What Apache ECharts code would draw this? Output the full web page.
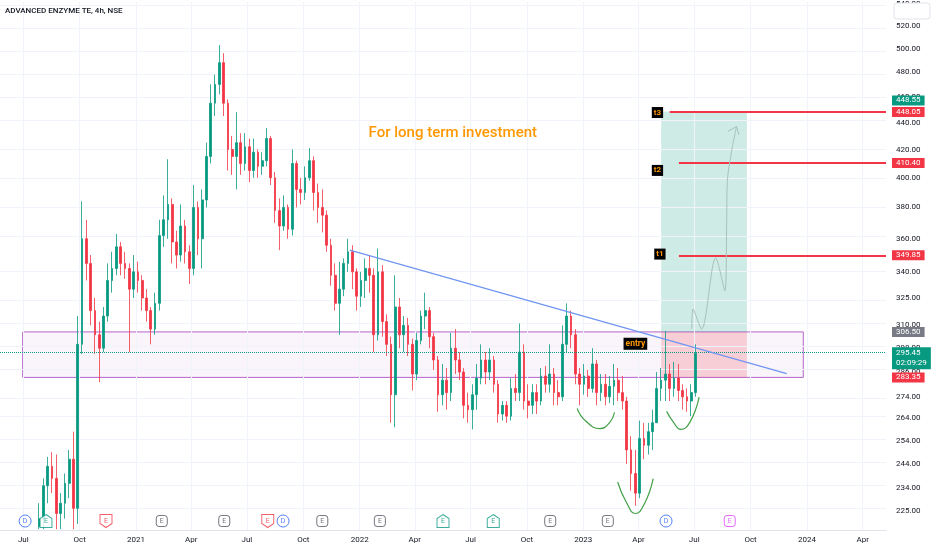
<!DOCTYPE html>
<html>
<head>
<meta charset="utf-8">
<title>ADVANCED ENZYME TE, 4h, NSE</title>
<script src="https://cdn.jsdelivr.net/npm/echarts@6/dist/echarts.min.js"></script>
<style>
  html, body { margin: 0; padding: 0; background: #fff; }
  #chart { width: 932px; height: 550px; }
</style>
</head>
<body>
<div id="chart"></div>
<script>
// weekly candles, [open, close, low, high]
// (lows that run off the bottom of the picture are taken at the edge)
var firstWeek = '2020-07-27';
var candles = [
  [219, 222, 218, 228], [222, 235, 218, 238], [235, 243, 228, 247], [243, 238, 232, 249],
  [238, 224, 218, 248], [224, 228, 218, 232], [228, 236, 222, 240], [236, 246, 230, 250],
  [246, 226, 218, 258], [226, 300, 220, 315], [300, 360, 295, 384], [360, 345, 335, 372],
  [345, 318, 310, 350], [318, 305, 295, 325], [305, 298, 281, 312], [298, 315, 296, 320],
  [315, 335, 312, 345], [335, 342, 328, 352], [342, 355, 338, 363], [355, 345, 338, 358],
  [345, 342, 336, 352], [342, 330, 296, 345], [330, 340, 325, 350], [340, 335, 328, 346],
  [335, 325, 318, 338], [325, 318, 312, 330], [318, 308, 300, 320], [308, 322, 305, 328],
  [322, 362, 318, 372], [362, 372, 355, 388], [372, 382, 360, 413], [382, 358, 345, 386],
  [358, 350, 342, 365], [350, 368, 346, 382], [368, 352, 345, 372], [352, 342, 333, 356],
  [342, 380, 338, 395], [380, 360, 350, 384], [360, 385, 342, 392], [385, 415, 380, 425],
  [415, 455, 410, 470], [455, 470, 445, 478], [470, 488, 462, 503], [488, 455, 445, 496],
  [455, 420, 405, 458], [420, 415, 402, 430], [415, 425, 392, 448], [425, 410, 402, 432],
  [410, 422, 405, 432], [422, 405, 397, 428], [405, 418, 400, 428], [418, 408, 400, 420],
  [408, 412, 402, 418], [412, 428, 408, 436], [428, 400, 395, 430], [400, 378, 370, 404],
  [378, 368, 353, 386], [368, 380, 365, 388], [380, 366, 360, 382], [366, 410, 362, 420],
  [410, 392, 380, 412], [392, 390, 382, 400], [390, 400, 385, 408], [400, 412, 398, 421],
  [412, 390, 378, 415], [390, 380, 370, 396], [380, 375, 364, 392], [375, 356, 352, 378],
  [356, 338, 332, 360], [338, 322, 318, 345], [322, 330, 305, 346], [330, 345, 326, 348],
  [345, 352, 340, 360], [352, 340, 330, 356], [340, 326, 318, 342], [326, 335, 320, 340],
  [335, 342, 325, 348], [342, 338, 328, 350], [338, 305, 296, 342], [305, 340, 302, 354],
  [340, 312, 304, 344], [312, 300, 294, 316], [300, 275, 262, 304], [275, 320, 260, 338],
  [320, 305, 298, 325], [305, 310, 296, 315], [310, 300, 294, 314], [300, 285, 277, 303],
  [285, 302, 282, 306], [302, 315, 300, 318], [315, 318, 308, 328], [318, 304, 298, 320],
  [304, 292, 287, 306], [292, 275, 267, 294], [275, 282, 270, 290], [282, 276, 268, 288],
  [276, 298, 272, 306], [298, 292, 285, 308], [292, 286, 282, 296], [286, 270, 264, 288],
  [270, 268, 262, 276], [268, 275, 259, 280], [275, 283, 268, 290], [283, 292, 280, 300],
  [292, 286, 280, 296], [286, 292, 282, 298], [292, 280, 276, 294], [280, 266, 262, 282],
  [266, 270, 263, 272], [270, 265, 262, 272], [265, 278, 263, 283], [278, 276, 272, 285],
  [276, 296, 272, 311], [296, 272, 268, 300], [272, 270, 264, 280], [270, 276, 266, 280],
  [276, 272, 266, 280], [272, 284, 270, 288], [284, 280, 276, 289], [280, 285, 276, 300],
  [285, 276, 270, 288], [276, 274, 270, 282], [274, 300, 272, 310], [300, 315, 296, 322],
  [315, 305, 298, 318], [305, 285, 280, 308], [285, 280, 270, 288], [280, 284, 275, 290],
  [284, 278, 274, 287], [278, 290, 276, 298], [290, 276, 270, 292], [276, 280, 272, 285],
  [280, 274, 270, 285], [274, 279, 271, 284], [279, 282, 270, 290], [282, 276, 272, 288],
  [276, 272, 268, 284], [272, 250, 244, 274], [250, 240, 233, 256], [240, 232, 227, 250],
  [232, 255, 230, 263], [255, 252, 246, 262], [252, 258, 248, 262], [258, 262, 250, 268],
  [262, 278, 262, 286], [278, 282, 272, 288], [282, 285, 272, 307], [285, 278, 272, 290],
  [278, 283, 274, 291], [283, 277, 272, 290], [277, 274, 268, 280], [274, 272, 267, 278],
  [272, 276, 265, 280], [276, 295.45, 274, 300]
];
var lastPrice = 295.45;
var countdown = '02:09:29';

var priceTicks = [225, 234, 244, 254, 264, 274, 286, 298, 310, 325, 340, 360, 380, 400, 420, 440, 460, 480, 500, 520, 540];
var timeTicks = ['2020-07-01', '2020-10-01', '2021-01-01', '2021-04-01', '2021-07-01', '2021-10-01',
  '2022-01-01', '2022-04-01', '2022-07-01', '2022-10-01', '2023-01-01', '2023-04-01',
  '2023-07-01', '2023-10-01', '2024-01-01', '2024-04-01'];
var monthNames = ['Jan', 'Feb', 'Mar', 'Apr', 'May', 'Jun', 'Jul', 'Aug', 'Sep', 'Oct', 'Nov', 'Dec'];

// drawings
var zoneDates = ['2020-06-30', '2023-12-26'];
var zonePrices = [283.35, 306.50];
var boxDates = ['2023-05-08', '2023-09-25'];
var entryPrice = 306.50;
var stopPrice = 283.35;
var targetPrice = 448.55;
var targetNames = ['t1', 't2', 't3'];
var targetLevels = [349.85, 410.40, 448.05];
var targetStarts = ['2023-06-06', '2023-06-06', '2023-05-22'];
var targetLabelAt = [['2023-05-06', 350.6], ['2023-05-02', 405.1], ['2023-05-02', 447.7]];
var entryLabelAt = ['2023-03-27', 300.3];
var noteText = 'For long term investment';
var noteAt = ['2022-06-02', 431.6];
var trendLine = [['2021-12-16', 353.0], ['2023-11-29', 285.2]];
var cupLeft = [['2022-12-22', 268.5], ['2023-01-04', 263.0], ['2023-01-28', 259.4], ['2023-02-13', 262.1], ['2023-02-21', 266.7]];
var cupMid = [['2023-02-26', 236.5], ['2023-03-12', 228.5], ['2023-03-27', 224.0], ['2023-04-11', 227.9], ['2023-04-25', 237.9]];
var cupRight = [['2023-05-17', 267.2], ['2023-05-28', 262.3], ['2023-06-09', 259.0], ['2023-06-24', 262.3], ['2023-07-09', 273.9]];
var projection = [['2023-06-27', 308.0], ['2023-06-29', 318.8], ['2023-07-13', 308.0], ['2023-08-05', 348.4],
  ['2023-08-20', 329.0], ['2023-08-23', 371.1], ['2023-08-24', 397.5], ['2023-08-31', 418.6], ['2023-09-08', 437.0]];
var arrowHead = [['2023-08-25', 433.3], ['2023-09-08', 437.0], ['2023-09-12', 430.8]];

// earnings / dividend flags along the bottom
var eventDates = ['2020-07-04', '2020-08-07', '2020-11-13', '2021-02-12', '2021-05-25', '2021-08-04',
  '2021-08-29', '2021-11-01', '2022-02-03', '2022-05-17', '2022-08-07', '2022-11-08',
  '2023-02-10', '2023-05-16', '2023-08-28'];
var eventKinds = ['D', 'Eup', 'Edown', 'E', 'E', 'Edown', 'D', 'E', 'E', 'Eup', 'Eup', 'E', 'E', 'D', 'Efuture'];
var eventRowPrice = 221.1;

var DAY = 86400000;
function T(s) { return Date.parse(s + 'T00:00:00Z'); }
function L(p) { return Math.log(p); }
function pt(d) { return [T(d[0]), L(d[1])]; }

var xMin = T('2020-05-24');
var xMax = T('2024-05-09');
var yMin = L(217.7);
var yMax = L(541.9);

var candleData = candles.map(function (c, i) {
  return [T(firstWeek) + i * 7 * DAY, L(c[0]), L(c[1]), L(c[2]), L(c[3])];
});

var eventStyles = {
  D: { symbol: 'circle', size: 12, color: '#2962ff', text: 'D' },
  E: { symbol: 'roundRect', size: 11, color: '#50535e', text: 'E' },
  Eup: { symbol: 'path://M6,0 L12,4 L12,13 L0,13 L0,4 Z', size: [12, 13], color: '#089981', text: 'E' },
  Edown: { symbol: 'path://M0,0 L12,0 L12,9 L6,13 L0,9 Z', size: [12, 13], color: '#f23645', text: 'E' },
  Efuture: { symbol: 'roundRect', size: 11, color: '#e040fb', text: 'E' }
};
var eventData = eventDates.map(function (d, i) {
  var s = eventStyles[eventKinds[i]];
  return {
    value: [T(d), L(eventRowPrice)],
    symbol: s.symbol,
    symbolSize: s.size,
    itemStyle: { color: '#ffffff', borderColor: s.color, borderWidth: 1 },
    label: { show: true, position: 'inside', formatter: s.text, color: s.color, fontSize: 7, fontFamily: 'Roboto' }
  };
});

var gridLines = priceTicks.map(function (p) { return { yAxis: L(p) }; })
  .concat(timeTicks.map(function (d) { return { xAxis: T(d) }; }));

var targetLines = targetLevels.map(function (p, i) {
  return [{ coord: [T(targetStarts[i]), L(p)] }, { coord: [xMax, L(p)] }];
});

var chart = echarts.init(document.getElementById('chart'));

var option = {
  animation: false,
  backgroundColor: '#ffffff',
  grid: { left: 0, right: 46, top: 0, bottom: 20, containLabel: false },
  xAxis: {
    type: 'value',
    min: xMin,
    max: xMax,
    axisLine: { show: true, lineStyle: { color: '#e0e3eb' } },
    axisTick: { show: false },
    splitLine: { show: false },
    axisLabel: {
      customValues: timeTicks.map(T),
      color: '#131722',
      fontSize: 8,
      fontFamily: 'Roboto',
      margin: 6,
      formatter: function (v) {
        var d = new Date(v);
        var m = d.getUTCMonth();
        return m === 0 ? String(d.getUTCFullYear()) : monthNames[m];
      }
    }
  },
  yAxis: {
    type: 'value',
    position: 'right',
    min: yMin,
    max: yMax,
    axisLine: { show: false },
    axisTick: { show: false },
    splitLine: { show: false },
    axisLabel: {
      customValues: priceTicks.map(L),
      color: '#131722',
      fontSize: 8,
      fontFamily: 'Roboto',
      margin: 10,
      formatter: function (v) { return Math.exp(v).toFixed(2); }
    }
  },
  series: [
    {
      // faint price / time grid
      type: 'line',
      data: [],
      silent: true,
      markLine: {
        z: 1,
        silent: true,
        symbol: ['none', 'none'],
        label: { show: false },
        lineStyle: { color: '#f0f3fa', width: 1, type: 'solid' },
        data: gridLines
      }
    },
    {
      // zone and long position box
      type: 'line',
      data: [],
      silent: true,
      markArea: {
        z: 1,
        silent: true,
        label: { show: false },
        data: [
          [
            { coord: [T(zoneDates[0]), L(zonePrices[1])], itemStyle: { color: 'rgba(156,39,176,0.05)', borderColor: '#b565c9', borderWidth: 1 } },
            { coord: [T(zoneDates[1]), L(zonePrices[0])] }
          ],
          [
            { coord: [T(boxDates[0]), L(targetPrice)], itemStyle: { color: 'rgba(8,153,129,0.2)' } },
            { coord: [T(boxDates[1]), L(entryPrice)] }
          ],
          [
            { coord: [T(boxDates[0]), L(entryPrice)], itemStyle: { color: 'rgba(242,54,69,0.2)' } },
            { coord: [T(boxDates[1]), L(stopPrice)] }
          ]
        ]
      }
    },
    {
      type: 'candlestick',
      name: 'ADVANCED ENZYME TE',
      data: candleData,
      encode: { x: 0, y: [1, 2, 3, 4] },
      barWidth: 2.2,
      z: 2,
      itemStyle: {
        color: '#089981',
        color0: '#f23645',
        borderColor: '#089981',
        borderColor0: '#f23645',
        borderWidth: 0.8
      }
    },
    {
      // target lines and last price line
      type: 'line',
      data: [],
      silent: true,
      markLine: {
        z: 4,
        silent: true,
        symbol: ['none', 'none'],
        label: { show: false },
        data: targetLines.map(function (seg) {
          seg[0].lineStyle = { color: '#f23645', width: 2, type: 'solid' };
          return seg;
        }).concat([
          { yAxis: L(lastPrice), lineStyle: { color: '#089981', width: 1, type: 'dotted' } }
        ])
      }
    },
    {
      type: 'line', data: trendLine.map(pt), symbol: 'none', silent: true, z: 4,
      lineStyle: { color: '#7095f0', width: 1.2 }
    },
    {
      type: 'line', data: cupLeft.map(pt), symbol: 'none', smooth: true, silent: true, z: 4,
      lineStyle: { color: '#43a047', width: 1.2 }
    },
    {
      type: 'line', data: cupMid.map(pt), symbol: 'none', smooth: true, silent: true, z: 4,
      lineStyle: { color: '#43a047', width: 1.2 }
    },
    {
      type: 'line', data: cupRight.map(pt), symbol: 'none', smooth: true, silent: true, z: 4,
      lineStyle: { color: '#43a047', width: 1.2 }
    },
    {
      type: 'line', data: projection.map(pt), symbol: 'none', smooth: 0.3, silent: true, z: 4,
      lineStyle: { color: '#a7c2b9', width: 1 }
    },
    {
      type: 'line', data: arrowHead.map(pt), symbol: 'none', silent: true, z: 4,
      lineStyle: { color: '#a7c2b9', width: 1 }
    },
    {
      type: 'scatter',
      data: eventData,
      silent: true,
      clip: false,
      z: 5
    }
  ]
};

chart.setOption(option);

// text drawings and price-scale tags, placed through the chart's own scales
function px(d, p) { return chart.convertToPixel({ gridIndex: 0 }, [T(d), L(p)]); }
function yOf(p) { return chart.convertToPixel({ gridIndex: 0 }, [xMax, L(p)]); }

var tagX = yOf(lastPrice)[0] + 6;
function tag(text, p, bg, dy) {
  return {
    type: 'text', z: 100, x: tagX, y: yOf(p)[1] + dy,
    style: {
      text: text, fill: '#ffffff', font: '8px Roboto', backgroundColor: bg,
      padding: [1, 4, 1, 4], align: 'left', verticalAlign: 'middle'
    }
  };
}
function blackLabel(text, at, font) {
  var p = px(at[0], at[1]);
  return {
    type: 'text', z: 100, x: p[0], y: p[1],
    style: {
      text: text, fill: '#ff9800', font: font, backgroundColor: '#000000',
      padding: [2, 2, 1, 2], align: 'center', verticalAlign: 'middle'
    }
  };
}

var graphics = [
  {
    type: 'text', z: 100, x: 5, y: 11,
    style: { text: 'ADVANCED ENZYME TE, 4h, NSE', fill: '#131722', font: '500 8px Roboto', verticalAlign: 'middle' }
  },
  {
    type: 'rect', z: 100, shape: { x: 894, y: 3, width: 36, height: 16, r: 3 },
    style: { fill: '#ffffff', stroke: '#e0e3eb', lineWidth: 1 }
  },
  (function () {
    var p = px(noteAt[0], noteAt[1]);
    return {
      type: 'text', z: 100, x: p[0], y: p[1],
      style: { text: noteText, fill: '#ff9800', font: '500 15px Roboto', align: 'center', verticalAlign: 'middle' }
    };
  })(),
  blackLabel('entry', entryLabelAt, 'bold 8.5px Roboto'),
  tag(targetPrice.toFixed(2), targetPrice, '#089981', -11),
  tag(entryPrice.toFixed(2), entryPrice, '#787b86', 0),
  tag(stopPrice.toFixed(2), stopPrice, '#f23645', 0),
  {
    type: 'text', z: 100, x: tagX, y: yOf(lastPrice)[1] - 6,
    style: {
      text: lastPrice.toFixed(2) + '\n' + countdown, fill: '#ffffff', font: '8px Roboto',
      lineHeight: 10, backgroundColor: '#089981', padding: [1, 4, 1, 4], align: 'left', verticalAlign: 'top'
    }
  }
];
targetNames.forEach(function (name, i) {
  graphics.push(blackLabel(name, targetLabelAt[i], 'bold 8px Roboto'));
  graphics.push(tag(targetLevels[i].toFixed(2), targetLevels[i], '#f23645', 0));
});

chart.setOption({ graphic: graphics });
</script>
</body>
</html>
